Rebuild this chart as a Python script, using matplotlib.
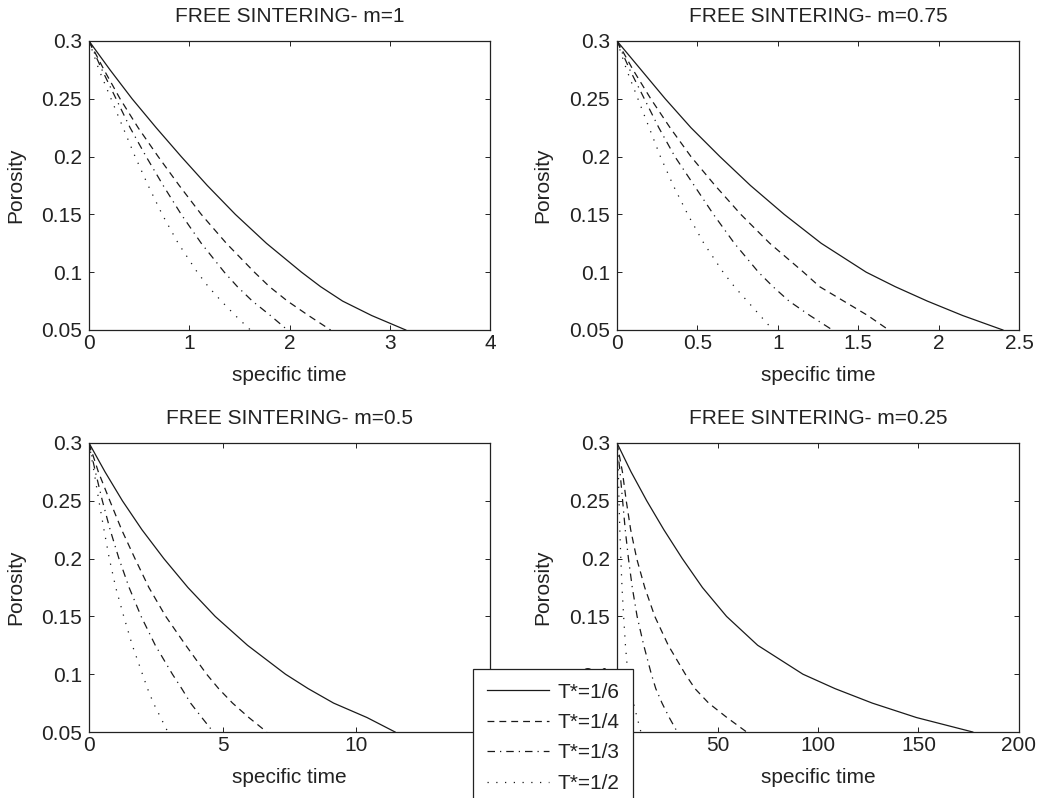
import matplotlib
matplotlib.use("Agg")
import matplotlib.pyplot as plt

plt.rcParams['font.family'] = ['Liberation Sans', 'DejaVu Sans']
plt.rcParams['font.size'] = 15

porosity = [0.30, 0.275, 0.25, 0.225, 0.20, 0.175, 0.15, 0.125, 0.10,
            0.0875, 0.075, 0.0625, 0.05]

series_labels = ["T*=1/6", "T*=1/4", "T*=1/3", "T*=1/2"]

# m = 1
m1_t16 = [0, 0.21, 0.43, 0.67, 0.92, 1.18, 1.46, 1.77, 2.12, 2.31, 2.53, 2.82, 3.16]
m1_t14 = [0, 0.15, 0.31, 0.49, 0.69, 0.90, 1.12, 1.37, 1.65, 1.80, 1.98, 2.19, 2.41]
m1_t13 = [0, 0.13, 0.27, 0.41, 0.57, 0.74, 0.92, 1.12, 1.35, 1.48, 1.63, 1.81, 1.98]
m1_t12 = [0, 0.10, 0.22, 0.34, 0.46, 0.59, 0.73, 0.89, 1.08, 1.19, 1.32, 1.46, 1.61]

# m = 0.75
m075_t16 = [0, 0.15, 0.30, 0.46, 0.64, 0.83, 1.04, 1.27, 1.55, 1.73, 1.93, 2.15, 2.40]
m075_t14 = [0, 0.10, 0.21, 0.33, 0.46, 0.61, 0.77, 0.95, 1.16, 1.26, 1.41, 1.56, 1.69]
m075_t13 = [0, 0.08, 0.17, 0.26, 0.36, 0.48, 0.60, 0.73, 0.88, 0.97, 1.07, 1.20, 1.34]
m075_t12 = [0, 0.06, 0.13, 0.20, 0.27, 0.35, 0.44, 0.54, 0.66, 0.73, 0.81, 0.89, 0.97]

# m = 0.5
m05_t16 = [0, 0.60, 1.25, 1.98, 2.80, 3.70, 4.72, 5.93, 7.35, 8.20, 9.15, 10.4, 11.45]
m05_t14 = [0, 0.35, 0.78, 1.22, 1.72, 2.24, 2.87, 3.62, 4.40, 4.85, 5.37, 5.98, 6.65]
m05_t13 = [0, 0.24, 0.50, 0.79, 1.12, 1.50, 1.95, 2.48, 3.12, 3.47, 3.80, 4.22, 4.65]
m05_t12 = [0, 0.19, 0.37, 0.56, 0.76, 1.00, 1.30, 1.62, 2.00, 2.19, 2.41, 2.68, 2.95]

# m = 0.25
m025_t16 = [0, 7, 14.8, 23.3, 32.5, 42.5, 54.5, 70, 92.5, 108.5, 127, 149, 177]
m025_t14 = [0, 2.7, 4.6, 6.8, 9.8, 13.8, 18.8, 25.5, 34, 38.8, 45.6, 54.7, 64.5]
m025_t13 = [0, 1.5, 2.8, 4.1, 5.7, 7.6, 10, 13.3, 17.1, 19.3, 22.4, 26, 30]
m025_t12 = [0, 0.66, 1.0, 1.4, 1.9, 2.5, 3.3, 4.2, 5.4, 6.6, 8.2, 10, 11.9]

titles = ["FREE SINTERING- m=1", "FREE SINTERING- m=0.75",
          "FREE SINTERING- m=0.5", "FREE SINTERING- m=0.25"]
xticks = [[0, 1, 2, 3, 4], [0, 0.5, 1, 1.5, 2, 2.5],
          [0, 5, 10, 15], [0, 50, 100, 150, 200]]
xtick_labels = [["0", "1", "2", "3", "4"], ["0", "0.5", "1", "1.5", "2", "2.5"],
                ["0", "5", "10", "15"], ["0", "50", "100", "150", "200"]]
yticks = [0.05, 0.1, 0.15, 0.2, 0.25, 0.3]
ytick_labels = ["0.05", "0.1", "0.15", "0.2", "0.25", "0.3"]

panel_data = [
    [m1_t16, m1_t14, m1_t13, m1_t12],
    [m075_t16, m075_t14, m075_t13, m075_t12],
    [m05_t16, m05_t14, m05_t13, m05_t12],
    [m025_t16, m025_t14, m025_t13, m025_t12],
]

styles = ['-', (0, (5.5, 4)), (0, (6, 4, 1, 4)), (0, (1, 6))]
line_color = '#1a1a1a'
ink = '#222222'

W, H = 1042, 798
fig = plt.figure(figsize=(W / 100, H / 100), dpi=100)

# axes boxes in pixels: left, top, right, bottom
boxes = [(89, 41, 490, 330), (617, 41, 1019, 330),
         (89, 443, 490, 732), (617, 443, 1019, 732)]

handles = []
for i, (l, t, r, b) in enumerate(boxes):
    ax = fig.add_axes([l / W, 1 - b / H, (r - l) / W, (b - t) / H])
    lines = []
    for times, ls in zip(panel_data[i], styles):
        ln, = ax.plot(times, porosity, color=line_color, linestyle=ls, linewidth=0.9)
        lines.append(ln)
    if i == 0:
        handles = lines
    ax.set_xlim(xticks[i][0], xticks[i][-1])
    ax.set_ylim(0.05, 0.3)
    ax.set_xticks(xticks[i])
    ax.set_xticklabels(xtick_labels[i])
    ax.set_yticks(yticks)
    ax.set_yticklabels(ytick_labels)
    ax.tick_params(direction='in', top=True, right=True, length=3.5, width=0.7,
                   colors=ink)
    ax.tick_params(axis='x', pad=3)
    ax.tick_params(axis='y', pad=5)
    for sp in ax.spines.values():
        sp.set_color(ink)
        sp.set_linewidth(0.9)
    ax.set_title(titles[i], fontsize=15, pad=14, color=ink)
    ax.set_xlabel("specific time", color=ink)
    ax.set_ylabel("Porosity", color=ink)
    ax.xaxis.set_label_coords(0.5, -0.125)
    ax.yaxis.set_label_coords(-0.16, 0.5)

# legend sits across the gap between the two lower panels
leg = fig.legend(handles, series_labels, loc='upper left',
                 bbox_to_anchor=(473 / W, 1 - 669 / H), fontsize=15,
                 frameon=True, fancybox=False, framealpha=1, edgecolor=ink,
                 handlelength=3.0, handletextpad=0.4, labelspacing=0.55,
                 borderpad=0.65, borderaxespad=0)
leg.get_frame().set_linewidth(0.9)
for txt in leg.get_texts():
    txt.set_color(ink)

plt.savefig("out.png", dpi=100)
plt.close()
